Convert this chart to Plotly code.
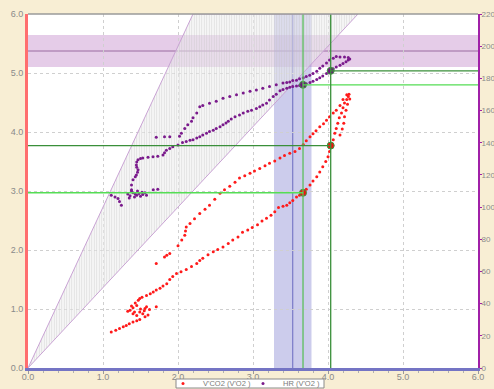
import plotly.graph_objects as go

# ---------------- data ----------------
# V'CO2 vs V'O2 (L/min), left axis
vo2_a = [1.36,1.40,1.42,1.45,1.47,1.49,1.40,1.45,1.49,1.53,1.56,1.62,1.71,1.33,1.38,1.43,1.50,1.55,1.58,
         1.52,1.58,1.63,1.67,1.71,1.76,1.80,1.85,1.89,1.93,1.98,2.04,2.11,2.18,2.25,2.29,2.33,2.40,2.47,2.53,
         2.60,2.67,2.73,2.80,2.86,2.93,2.99,3.06,3.12,3.18,3.24,3.29,3.34,3.40,3.45,3.49,3.53,3.58,3.62,3.67,
         3.71,3.76,3.80,3.85,3.89,3.93,3.97,4.00,4.02,4.04,4.07,4.09,4.11,4.13,4.15,4.18,4.20,4.22,4.25,4.27,4.28,
         4.29,4.26,4.24,4.22,4.21,4.19,4.16,
         4.25,4.20,4.16,4.11,4.07,4.02,3.98,3.94,3.89,3.84,3.80,3.76,3.71,3.67,3.62,3.56,3.49,3.42,3.36,3.29,
         3.22,3.16,3.09,3.02,2.96,2.89,2.82,2.76,2.69,2.62,2.56,2.49,2.42,2.36,2.29,2.22,2.16,2.11,2.10,2.09,
         2.05,2.00,1.89,1.85,1.82,1.71,
         1.60,1.56,1.49,1.45,1.40,1.35,1.31,1.27,1.22,1.17,1.11]
vco2 = [0.98,1.02,0.95,1.06,1.15,1.18,0.92,0.89,0.95,0.92,1.01,0.99,1.04,0.96,1.05,1.10,1.00,0.97,1.04,
        1.20,1.23,1.26,1.29,1.32,1.35,1.39,1.43,1.50,1.55,1.60,1.63,1.67,1.72,1.77,1.82,1.86,1.92,1.97,2.01,
        2.05,2.11,2.17,2.22,2.30,2.34,2.38,2.43,2.49,2.54,2.59,2.65,2.72,2.74,2.76,2.80,2.84,2.90,2.93,2.97,
        3.03,3.10,3.17,3.24,3.32,3.41,3.50,3.58,3.67,3.77,3.87,3.98,4.06,4.15,4.24,4.32,4.41,4.49,4.55,4.60,4.64,
        4.56,4.47,4.37,4.26,4.15,4.05,3.95,
        4.63,4.55,4.45,4.37,4.32,4.26,4.20,4.14,4.09,4.02,3.97,3.92,3.85,3.79,3.72,3.67,3.64,3.60,3.56,3.51,
        3.47,3.43,3.38,3.34,3.30,3.26,3.22,3.15,3.08,3.02,2.96,2.86,2.76,2.69,2.62,2.53,2.45,2.39,2.32,2.25,
        2.17,2.07,1.94,1.91,1.88,1.77,
        0.90,0.87,0.82,0.80,0.78,0.75,0.72,0.70,0.67,0.64,0.61]

# HR vs V'O2 (1/min), right axis
vo2_b = [1.33,1.36,1.40,1.42,1.45,1.48,1.50,1.53,1.56,1.58,1.38,1.46,1.52,1.67,1.73,1.35,1.43,
         1.11,1.16,1.20,1.22,1.245,
         1.38,1.38,1.40,1.43,1.445,1.46,1.467,1.45,1.445,1.45,1.467,1.50,1.53,1.60,1.667,1.73,1.80,1.82,1.845,
         1.89,1.93,2.00,2.06,2.11,2.16,2.20,2.25,2.29,2.33,2.38,2.42,2.47,2.51,2.56,2.60,2.64,2.67,2.71,2.76,
         2.82,2.87,2.93,2.98,3.045,3.09,3.13,3.18,3.22,3.27,3.31,3.36,3.40,3.45,3.49,3.53,3.58,3.62,3.667,
         3.71,3.76,3.80,3.85,3.89,3.93,3.98,4.036,4.07,4.11,4.16,4.20,4.24,4.27,
         4.29,4.27,4.22,4.16,4.11,4.07,4.02,
         3.98,3.93,3.89,3.85,3.80,3.756,3.71,3.67,3.62,3.58,3.53,3.49,3.45,3.40,3.31,3.22,3.13,3.045,2.96,
         2.87,2.78,2.69,2.60,2.51,2.42,2.33,2.29,2.25,2.20,2.18,2.13,2.09,2.045,2.02,1.89,1.82,1.71]
hr = [108.2,107.1,108.9,106.3,107.4,108.5,106.7,107.8,108.9,107.4,110.0,110.0,109.3,110.7,111.1,105.6,108.2,
      107.4,106.3,105.4,103.4,101.2,
      110.7,113.7,117.0,118.8,119.9,121.7,123.2,124.7,126.1,128.0,129.4,130.2,130.5,130.9,131.3,131.6,132.4,133.8,135.3,
      136.4,137.5,138.6,140.1,140.8,141.5,141.9,143.0,143.7,144.8,145.9,147.0,147.8,148.9,150.0,151.1,152.2,153.3,154.7,156.2,
      157.3,158.4,159.5,160.2,161.3,162.4,163.5,164.6,166.5,168.7,170.1,172.3,173.1,173.8,174.5,174.9,175.3,175.6,176.0,
      176.7,177.5,178.2,179.3,180.4,181.5,183.0,184.8,185.9,187.0,188.1,189.2,190.3,191.4,
      192.1,192.9,193.2,193.2,193.6,192.5,191.4,
      189.6,187.7,186.3,184.4,183.0,181.9,181.1,180.4,179.7,178.9,178.6,177.8,177.5,177.1,176.0,174.9,173.8,172.7,172.0,
      170.9,169.8,168.7,167.6,165.7,164.6,163.2,162.4,158.4,155.5,153.3,151.1,148.9,145.9,144.1,143.7,143.7,143.4]

# thresholds: V'O2, V'CO2, HR
thr_vo2 = [3.667, 4.036]
thr_vco2 = [2.97, 3.77]
thr_hr = [176.0, 184.7]

# predicted values (centre, half width)
pred_vo2 = 3.53
pred_vo2_tol = 0.25
pred_hr = 197
pred_hr_tol = 10

# O2-pulse reference lines (ml/beat)
o2pulse = [10, 20]

x_ticks = [0, 1, 2, 3, 4, 5, 6]
y_ticks = [0, 1, 2, 3, 4, 5, 6]
hr_ticks = list(range(0, 221, 20))
HR_MAX_AXIS = 220

# ---------------- figure ----------------
fig = go.Figure()

# O2-pulse hatched wedge (right axis)
wx = [0, HR_MAX_AXIS * o2pulse[0] / 1000, HR_MAX_AXIS * o2pulse[1] / 1000, 0]
wy = [0, HR_MAX_AXIS, HR_MAX_AXIS, 0]
fig.add_trace(go.Scatter(x=wx, y=wy, yaxis="y2", mode="lines", fill="toself",
                         line=dict(color="#c9a3d4", width=1),
                         fillcolor="rgba(225,225,225,0.45)",
                         fillpattern=dict(shape="|", size=2.5, solidity=0.3,
                                          fgcolor="#c4c4c4", bgcolor="rgba(238,238,238,0.5)"),
                         hoverinfo="skip", showlegend=False))

fig.add_trace(go.Scatter(x=vo2_a, y=vco2, mode="markers", name="V'CO2 (V'O2 )",
                         marker=dict(color="#ff1a1a", size=3)))
fig.add_trace(go.Scatter(x=vo2_b, y=hr, mode="markers", name="HR (V'O2 )", yaxis="y2",
                         marker=dict(color="#7a1a8c", size=3)))

# threshold markers
fig.add_trace(go.Scatter(x=thr_vo2, y=thr_vco2, mode="markers", showlegend=False,
                         marker=dict(color="#ee1111", size=7, line=dict(color="#3c9a3c", width=1))))
fig.add_trace(go.Scatter(x=thr_vo2, y=thr_hr, mode="markers", showlegend=False, yaxis="y2",
                         marker=dict(color="#6a1a7a", size=7, line=dict(color="#3c9a3c", width=1))))

shapes = []
# predicted HR band and line
shapes.append(dict(type="rect", xref="paper", x0=0, x1=1, yref="y2",
                   y0=pred_hr - pred_hr_tol, y1=pred_hr + pred_hr_tol,
                   fillcolor="rgba(175,95,185,0.32)", line=dict(width=0), layer="below"))
shapes.append(dict(type="line", xref="paper", x0=0, x1=1, yref="y2", y0=pred_hr, y1=pred_hr,
                   line=dict(color="#9a6aa0", width=1), layer="below"))
# predicted VO2 band and line
shapes.append(dict(type="rect", yref="paper", y0=0, y1=1, xref="x",
                   x0=pred_vo2 - pred_vo2_tol, x1=pred_vo2 + pred_vo2_tol,
                   fillcolor="rgba(110,110,200,0.35)", line=dict(width=0), layer="below"))
shapes.append(dict(type="line", yref="paper", y0=0, y1=1, xref="x", x0=pred_vo2, x1=pred_vo2,
                   line=dict(color="#6a6ac0", width=1), layer="below"))
# threshold lines
thr_colors = ["#55dd55", "#3a8f3a"]
for i in range(2):
    c = thr_colors[i]
    shapes.append(dict(type="line", yref="paper", y0=0, y1=1, xref="x", x0=thr_vo2[i], x1=thr_vo2[i],
                       line=dict(color="#5cbf5c" if i == 0 else "#3a8f3a", width=1.3)))
    shapes.append(dict(type="line", xref="x", x0=0, x1=thr_vo2[i], yref="y", y0=thr_vco2[i], y1=thr_vco2[i],
                       line=dict(color=c, width=1.3)))
    shapes.append(dict(type="line", xref="x", x0=thr_vo2[i], x1=6, yref="y2", y0=thr_hr[i], y1=thr_hr[i],
                       line=dict(color=c, width=1.3)))
# top border
shapes.append(dict(type="line", xref="paper", yref="paper", x0=0, x1=1, y0=1, y1=1,
                   line=dict(color="#9a9a9a", width=1.5)))
# legend frame (plot area is 450 x 354 px)
shapes.append(dict(type="rect", xref="paper", yref="paper",
                   x0=(176 - 28) / 450, x1=(324 - 28) / 450,
                   y0=-(379 - 368) / 354, y1=-(388 - 368) / 354,
                   fillcolor="white", line=dict(color="#8a8a8a", width=1)))

tick_font = dict(family="Liberation Sans, Arial, sans-serif", size=9, color="#8a8a8a")

fig.update_layout(
    width=494, height=389,
    margin=dict(l=28, r=16, t=14, b=21, autoexpand=False),
    paper_bgcolor="#f8eed4",
    plot_bgcolor="white",
    shapes=shapes,
    showlegend=True,
    legend=dict(orientation="h", x=(163 - 28) / 450, xanchor="left", y=-0.003, yanchor="top",
                font=dict(family="Liberation Sans, Arial, sans-serif", size=7.5, color="#7a7a7a"),
                bgcolor="rgba(0,0,0,0)", borderwidth=0,
                itemwidth=30, tracegroupgap=0, entrywidth=35, entrywidthmode="pixels"),
    xaxis=dict(range=[0, 6], tickvals=x_ticks, ticktext=[f"{v:.1f}" for v in x_ticks],
               showgrid=True, gridcolor="#cfcfcf", griddash="dot", gridwidth=1,
               showline=True, linecolor="#7474c4", linewidth=3,
               ticks="outside", ticklen=3, tickcolor="#9a9a9a", ticklabelstandoff=-5,
               minor=dict(dtick=0.2, ticks="outside", ticklen=2, tickcolor="#b0b0b0", showgrid=False),
               tickfont=tick_font, zeroline=False, fixedrange=True, automargin=False),
    yaxis=dict(range=[0, 6], tickvals=y_ticks, ticktext=[f"{v:.1f}" for v in y_ticks],
               showgrid=True, gridcolor="#cfcfcf", griddash="dot", gridwidth=1,
               showline=True, linecolor="#ff6e6e", linewidth=3,
               ticks="", tickfont=tick_font, zeroline=False, fixedrange=True, automargin=False),
    yaxis2=dict(range=[0, HR_MAX_AXIS], tickvals=hr_ticks, overlaying="y", side="right",
                showgrid=False, showline=True, linecolor="#a020a8", linewidth=2,
                ticks="outside", ticklen=2, tickcolor="#a020a8", ticklabelstandoff=-2,
                tickfont=dict(family="Liberation Sans, Arial, sans-serif", size=8, color="#8a8a8a"),
                zeroline=False, fixedrange=True, automargin=False),
)

fig.write_html("out.html", config={"displayModeBar": False},
               post_script="document.body.style.margin='0';document.body.style.padding='0';")
